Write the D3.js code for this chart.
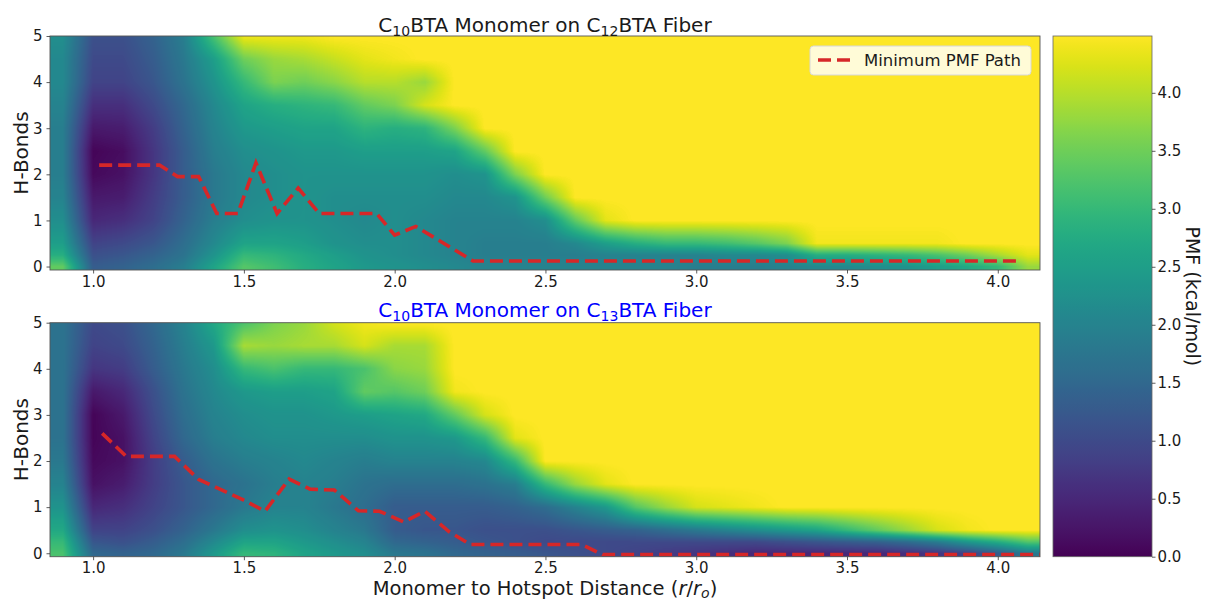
<!DOCTYPE html>
<html>
<head>
<meta charset="utf-8">
<script src="https://cdn.jsdelivr.net/npm/d3@7"></script>
<style>
  body { margin: 0; background: #fff; }
  text { font-family: "DejaVu Sans", sans-serif; fill: #1a1a1a; }
</style>
</head>
<body>
<svg id="chart" width="1205" height="601"></svg>
<script>
// Monomer-to-hotspot distance (r/r_o) at the centre of each PMF column
const distance = [0.9, 1.0, 1.1, 1.2, 1.3, 1.4, 1.5, 1.6, 1.7, 1.8, 1.9, 2.0, 2.1, 2.2, 2.3, 2.4, 2.5,
                  2.6, 2.7, 2.8, 2.9, 3.0, 3.1, 3.2, 3.3, 3.4, 3.5, 3.6, 3.7, 3.8, 3.9, 4.0, 4.1];
// H-bond count at the centre of each PMF row
const hbonds = [0, 0.25, 0.5, 1, 1.5, 2, 2.5, 3, 3.5, 4, 4.5, 5];

// PMF (kcal/mol), one array per distance column, values listed from 0 to 5 H-bonds
const pmfC12 = [
  [3.4, 2.8, 2.5, 2.2, 2.0, 1.9, 1.9, 1.9, 2.0, 2.1, 2.1, 2.2],
  [1.3, 1.1, 0.9, 0.5, 0.3, 0.1, 0.05, 0.3, 0.6, 0.9, 1.0, 1.1],
  [1.4, 1.2, 1.0, 0.6, 0.35, 0.2, 0.15, 0.35, 0.6, 0.9, 1.0, 1.1],
  [1.6, 1.4, 1.2, 0.9, 0.8, 0.7, 0.7, 0.8, 1.0, 1.2, 1.3, 1.4],
  [1.9, 1.7, 1.6, 1.4, 1.3, 1.3, 1.3, 1.4, 1.5, 1.7, 1.8, 1.9],
  [2.6, 2.3, 2.1, 1.9, 1.8, 1.8, 1.9, 2.0, 2.1, 2.3, 2.5, 3.2],
  [3.3, 3.0, 2.6, 2.2, 2.1, 2.1, 2.2, 2.4, 2.6, 3.0, 3.5, 4.4],
  [3.1, 2.9, 2.6, 2.3, 2.2, 2.2, 2.3, 2.5, 2.8, 3.6, 3.8, 4.4],
  [2.8, 2.7, 2.5, 2.3, 2.3, 2.3, 2.4, 2.6, 2.9, 3.5, 3.9, 4.4],
  [2.6, 2.5, 2.3, 2.2, 2.2, 2.3, 2.4, 2.6, 3.0, 3.7, 4.1, 4.5],
  [2.4, 2.3, 2.2, 2.1, 2.2, 2.3, 2.5, 2.9, 3.4, 4.0, 4.3, 4.5],
  [2.3, 2.2, 2.2, 2.2, 2.2, 2.3, 2.5, 2.8, 3.6, 4.0, 4.4, 4.5],
  [2.2, 2.1, 2.1, 2.1, 2.2, 2.3, 2.5, 2.9, 4.2, 3.8, 4.5, 4.5],
  [2.1, 2.0, 2.0, 2.0, 2.1, 2.2, 2.6, 3.6, 4.5, 4.5, 4.5, 4.5],
  [2.0, 1.9, 1.9, 2.0, 2.1, 2.3, 3.4, 4.5, 4.5, 4.5, 4.5, 4.5],
  [2.0, 1.9, 1.9, 2.0, 2.3, 3.6, 4.5, 4.5, 4.5, 4.5, 4.5, 4.5],
  [2.0, 1.9, 1.9, 2.2, 3.5, 4.5, 4.5, 4.5, 4.5, 4.5, 4.5, 4.5],
  [2.0, 1.9, 2.1, 3.4, 4.5, 4.5, 4.5, 4.5, 4.5, 4.5, 4.5, 4.5],
  [2.0, 2.0, 2.5, 4.3, 4.5, 4.5, 4.5, 4.5, 4.5, 4.5, 4.5, 4.5],
  [2.0, 2.0, 2.8, 4.5, 4.5, 4.5, 4.5, 4.5, 4.5, 4.5, 4.5, 4.5],
  [2.0, 2.0, 3.0, 4.5, 4.5, 4.5, 4.5, 4.5, 4.5, 4.5, 4.5, 4.5],
  [1.9, 2.0, 3.0, 4.5, 4.5, 4.5, 4.5, 4.5, 4.5, 4.5, 4.5, 4.5],
  [1.9, 2.1, 3.1, 4.5, 4.5, 4.5, 4.5, 4.5, 4.5, 4.5, 4.5, 4.5],
  [1.9, 2.1, 3.3, 4.5, 4.5, 4.5, 4.5, 4.5, 4.5, 4.5, 4.5, 4.5],
  [2.0, 2.2, 3.6, 4.5, 4.5, 4.5, 4.5, 4.5, 4.5, 4.5, 4.5, 4.5],
  [2.1, 2.8, 4.4, 4.5, 4.5, 4.5, 4.5, 4.5, 4.5, 4.5, 4.5, 4.5],
  [2.1, 2.8, 4.4, 4.5, 4.5, 4.5, 4.5, 4.5, 4.5, 4.5, 4.5, 4.5],
  [2.2, 2.9, 4.4, 4.5, 4.5, 4.5, 4.5, 4.5, 4.5, 4.5, 4.5, 4.5],
  [2.3, 3.0, 4.4, 4.5, 4.5, 4.5, 4.5, 4.5, 4.5, 4.5, 4.5, 4.5],
  [2.5, 3.2, 4.4, 4.5, 4.5, 4.5, 4.5, 4.5, 4.5, 4.5, 4.5, 4.5],
  [2.7, 3.5, 4.5, 4.5, 4.5, 4.5, 4.5, 4.5, 4.5, 4.5, 4.5, 4.5],
  [3.0, 3.9, 4.5, 4.5, 4.5, 4.5, 4.5, 4.5, 4.5, 4.5, 4.5, 4.5],
  [3.8, 4.3, 4.5, 4.5, 4.5, 4.5, 4.5, 4.5, 4.5, 4.5, 4.5, 4.5]
];

const pmfC13 = [
  [3.2, 3.0, 2.7, 2.3, 2.0, 1.8, 1.7, 1.7, 1.7, 1.7, 1.7, 1.7],
  [1.5, 1.2, 0.9, 0.5, 0.2, 0.1, 0.05, 0.05, 0.3, 0.7, 0.9, 1.0],
  [1.4, 1.1, 0.9, 0.6, 0.35, 0.2, 0.2, 0.3, 0.5, 0.8, 1.0, 1.1],
  [1.5, 1.3, 1.1, 0.9, 0.8, 0.8, 0.9, 1.0, 1.1, 1.3, 1.4, 1.5],
  [1.8, 1.6, 1.4, 1.2, 1.2, 1.3, 1.5, 1.6, 1.7, 1.8, 1.9, 2.0],
  [2.4, 2.1, 1.8, 1.5, 1.5, 1.7, 1.9, 2.0, 2.1, 2.2, 2.4, 2.7],
  [3.0, 2.6, 2.2, 1.8, 1.7, 1.9, 2.1, 2.2, 2.4, 3.0, 3.9, 3.2],
  [2.9, 2.6, 2.3, 2.0, 1.9, 2.0, 2.2, 2.3, 2.5, 3.2, 3.8, 3.6],
  [2.6, 2.4, 2.2, 2.0, 2.0, 2.1, 2.2, 2.3, 2.5, 3.0, 3.9, 3.8],
  [2.4, 2.2, 2.0, 1.8, 1.9, 2.0, 2.2, 2.4, 2.6, 3.0, 3.9, 4.2],
  [2.2, 2.0, 1.8, 1.6, 1.7, 1.9, 2.2, 2.5, 3.4, 3.2, 4.2, 4.4],
  [1.8, 1.5, 1.3, 1.3, 1.6, 2.0, 2.3, 2.6, 3.3, 3.7, 3.9, 4.5],
  [1.7, 1.4, 1.2, 1.3, 1.6, 2.0, 2.3, 2.7, 3.5, 3.8, 3.9, 4.5],
  [1.5, 1.3, 1.2, 1.3, 1.6, 2.0, 2.4, 3.4, 4.4, 4.5, 4.5, 4.5],
  [1.4, 1.2, 1.1, 1.3, 1.7, 2.1, 3.0, 4.2, 4.5, 4.5, 4.5, 4.5],
  [1.3, 1.1, 1.1, 1.4, 1.9, 3.0, 4.3, 4.5, 4.5, 4.5, 4.5, 4.5],
  [1.2, 1.0, 1.1, 1.6, 3.0, 4.5, 4.5, 4.5, 4.5, 4.5, 4.5, 4.5],
  [1.1, 1.0, 1.2, 2.0, 3.8, 4.5, 4.5, 4.5, 4.5, 4.5, 4.5, 4.5],
  [1.0, 1.0, 1.3, 2.4, 4.3, 4.5, 4.5, 4.5, 4.5, 4.5, 4.5, 4.5],
  [0.9, 1.0, 1.4, 3.3, 4.5, 4.5, 4.5, 4.5, 4.5, 4.5, 4.5, 4.5],
  [0.8, 1.0, 1.6, 3.8, 4.5, 4.5, 4.5, 4.5, 4.5, 4.5, 4.5, 4.5],
  [0.7, 1.0, 1.8, 4.2, 4.5, 4.5, 4.5, 4.5, 4.5, 4.5, 4.5, 4.5],
  [0.6, 1.0, 2.0, 4.3, 4.5, 4.5, 4.5, 4.5, 4.5, 4.5, 4.5, 4.5],
  [0.5, 1.0, 2.2, 4.4, 4.5, 4.5, 4.5, 4.5, 4.5, 4.5, 4.5, 4.5],
  [0.5, 1.1, 2.4, 4.5, 4.5, 4.5, 4.5, 4.5, 4.5, 4.5, 4.5, 4.5],
  [0.5, 1.2, 2.6, 4.5, 4.5, 4.5, 4.5, 4.5, 4.5, 4.5, 4.5, 4.5],
  [0.5, 1.3, 3.0, 4.5, 4.5, 4.5, 4.5, 4.5, 4.5, 4.5, 4.5, 4.5],
  [0.5, 1.4, 3.4, 4.5, 4.5, 4.5, 4.5, 4.5, 4.5, 4.5, 4.5, 4.5],
  [0.6, 1.6, 3.8, 4.5, 4.5, 4.5, 4.5, 4.5, 4.5, 4.5, 4.5, 4.5],
  [0.7, 1.9, 4.2, 4.5, 4.5, 4.5, 4.5, 4.5, 4.5, 4.5, 4.5, 4.5],
  [0.9, 2.4, 4.4, 4.5, 4.5, 4.5, 4.5, 4.5, 4.5, 4.5, 4.5, 4.5],
  [1.3, 2.8, 4.5, 4.5, 4.5, 4.5, 4.5, 4.5, 4.5, 4.5, 4.5, 4.5],
  [1.8, 3.3, 4.5, 4.5, 4.5, 4.5, 4.5, 4.5, 4.5, 4.5, 4.5, 4.5]
];

// Minimum PMF paths
const pathC12Dist   = [1.02, 1.22, 1.28, 1.35, 1.41, 1.48, 1.54, 1.61, 1.68, 1.75, 1.94, 2.00, 2.07, 2.26, 4.08];
const pathC12Hbonds = [2.20, 2.20, 1.95, 1.95, 1.15, 1.15, 2.25, 1.15, 1.70, 1.15, 1.15, 0.68, 0.87, 0.12, 0.12];
const pathC13Dist   = [1.03, 1.11, 1.27, 1.35, 1.44, 1.50, 1.57, 1.65, 1.72, 1.80, 1.88, 1.95, 2.03, 2.10, 2.18, 2.25, 2.62, 2.69, 4.14];
const pathC13Hbonds = [2.60, 2.10, 2.10, 1.60, 1.33, 1.15, 0.91, 1.61, 1.39, 1.37, 0.92, 0.91, 0.68, 0.91, 0.47, 0.19, 0.19, -0.03, -0.03];

const xTickValues = [1.0, 1.5, 2.0, 2.5, 3.0, 3.5, 4.0];
const yTickValues = [0, 1, 2, 3, 4, 5];
const cbarTickValues = [0.0, 0.5, 1.0, 1.5, 2.0, 2.5, 3.0, 3.5, 4.0];

const svg = d3.select("#chart");
const defs = svg.append("defs");

const plotLeft = 50, plotRight = 1040;
const x = d3.scaleLinear().domain([0.857, 4.14]).range([plotLeft, plotRight]);
const color = d3.scaleSequential(d3.interpolateViridis).domain([0, 4.49]).clamp(true);

// bilinear lookup in the PMF grid (like imshow's bilinear interpolation)
function locate(centres, v) {
  const hi = Math.min(Math.max(d3.bisectRight(centres, v), 1), centres.length - 1);
  const lo = hi - 1;
  const t = Math.max(0, Math.min(1, (v - centres[lo]) / (centres[hi] - centres[lo])));
  return [lo, hi, t];
}
function pmfAt(pmf, d, h) {
  const [i0, i1, tx] = locate(distance, d);
  const [j0, j1, ty] = locate(hbonds, h);
  const a = pmf[i0][j0] * (1 - tx) + pmf[i1][j0] * tx;
  const b = pmf[i0][j1] * (1 - tx) + pmf[i1][j1] * tx;
  return a * (1 - ty) + b * ty;
}

// raster of the PMF surface for one panel, one canvas pixel per screen pixel
function pmfImage(pmf, y, top, bottom) {
  const w = plotRight - plotLeft, h = Math.round(bottom - top);
  const canvas = document.createElement("canvas");
  canvas.width = w; canvas.height = h;
  const ctx = canvas.getContext("2d");
  const img = ctx.createImageData(w, h);
  for (let py = 0; py < h; py++) {
    const hb = y.invert(top + (py + 0.5) * (bottom - top) / h);
    for (let px = 0; px < w; px++) {
      const d = x.invert(plotLeft + px + 0.5);
      const c = d3.rgb(color(pmfAt(pmf, d, hb)));
      const k = (py * w + px) * 4;
      img.data[k] = c.r; img.data[k + 1] = c.g; img.data[k + 2] = c.b; img.data[k + 3] = 255;
    }
  }
  ctx.putImageData(img, 0, 0);
  return canvas.toDataURL();
}

function drawPanel(cfg) {
  const y = d3.scaleLinear().domain([-0.075, 5]).range([cfg.bottom, cfg.top]);
  const g = svg.append("g");

  defs.append("clipPath").attr("id", cfg.id + "-clip")
    .append("rect")
    .attr("x", plotLeft).attr("y", cfg.top)
    .attr("width", plotRight - plotLeft).attr("height", cfg.bottom - cfg.top);

  g.append("image")
    .attr("x", plotLeft).attr("y", cfg.top)
    .attr("width", plotRight - plotLeft).attr("height", cfg.bottom - cfg.top)
    .attr("preserveAspectRatio", "none")
    .attr("href", pmfImage(cfg.pmf, y, cfg.top, cfg.bottom));

  // minimum PMF path
  const line = d3.line().x(d => x(d[0])).y(d => y(d[1]));
  g.append("g").attr("clip-path", `url(#${cfg.id}-clip)`)
    .append("path")
    .datum(cfg.pathX.map((d, k) => [d, cfg.pathY[k]]))
    .attr("d", line)
    .attr("fill", "none")
    .attr("stroke", "#d62728")
    .attr("stroke-width", 3.6)
    .attr("stroke-dasharray", "13,6");

  // frame
  g.append("rect")
    .attr("x", plotLeft).attr("y", cfg.top)
    .attr("width", plotRight - plotLeft).attr("height", cfg.bottom - cfg.top)
    .attr("fill", "none").attr("stroke", "#555").attr("stroke-width", 0.9);

  // axes
  const xAxis = g.append("g").attr("transform", `translate(0,${cfg.bottom})`)
    .call(d3.axisBottom(x).tickValues(xTickValues).tickFormat(d3.format(".1f"))
      .tickSize(3.5).tickPadding(2.5).tickSizeOuter(0));
  const yAxis = g.append("g").attr("transform", `translate(${plotLeft},0)`)
    .call(d3.axisLeft(y).tickValues(yTickValues).tickFormat(d3.format("d"))
      .tickSize(3.5).tickPadding(4).tickSizeOuter(0));
  [xAxis, yAxis].forEach(a => {
    a.select(".domain").remove();
    a.selectAll(".tick line").attr("stroke", "#333").attr("stroke-width", 0.8);
    a.selectAll(".tick text").attr("font-family", "DejaVu Sans").attr("font-size", 15).attr("fill", "#1a1a1a");
  });

  g.append("text")
    .attr("transform", `translate(28,${(cfg.top + cfg.bottom) / 2}) rotate(-90)`)
    .attr("text-anchor", "middle")
    .attr("font-size", 20)
    .text("H-Bonds");

  // title with subscripts
  const t = g.append("text")
    .attr("x", (plotLeft + plotRight) / 2).attr("y", cfg.titleY)
    .attr("text-anchor", "middle").attr("font-size", 20)
    .style("fill", cfg.titleColor);
  t.append("tspan").text("C");
  t.append("tspan").attr("dy", 4).attr("font-size", 14).text("10");
  t.append("tspan").attr("dy", -4).text("BTA Monomer on C");
  t.append("tspan").attr("dy", 4).attr("font-size", 14).text(cfg.fiberSub);
  t.append("tspan").attr("dy", -4).text("BTA Fiber");

  return g;
}

const upperPanel = drawPanel({ id: "c12", top: 36, bottom: 270, pmf: pmfC12,
  pathX: pathC12Dist, pathY: pathC12Hbonds, titleY: 31.5, titleColor: "#1a1a1a", fiberSub: "12" });
drawPanel({ id: "c13", top: 322.7, bottom: 556.7, pmf: pmfC13,
  pathX: pathC13Dist, pathY: pathC13Hbonds, titleY: 317, titleColor: "#0000ff", fiberSub: "13" });

// legend in the upper panel
const legend = upperPanel.append("g").attr("transform", "translate(810,46)");
legend.append("rect").attr("width", 221).attr("height", 29).attr("rx", 3.5)
  .attr("fill", "#ffffff").attr("fill-opacity", 0.82)
  .attr("stroke", "#d8d8d8").attr("stroke-width", 1);
legend.append("line").attr("x1", 8).attr("x2", 42).attr("y1", 14).attr("y2", 14)
  .attr("stroke", "#d62728").attr("stroke-width", 3.6).attr("stroke-dasharray", "13,6");
legend.append("text").attr("x", 54).attr("y", 20).attr("font-size", 16.5).text("Minimum PMF Path");

// x label
const xl = svg.append("text")
  .attr("x", (plotLeft + plotRight) / 2).attr("y", 595)
  .attr("text-anchor", "middle").attr("font-size", 19.5);
xl.append("tspan").text("Monomer to Hotspot Distance (");
xl.append("tspan").attr("font-style", "italic").text("r");
xl.append("tspan").text("/");
xl.append("tspan").attr("font-style", "italic").text("r");
xl.append("tspan").attr("font-style", "italic").attr("font-size", 14).attr("dy", 2.5).text("o");
xl.append("tspan").attr("dy", -2.5).text(")");

// colour bar
const cbX = 1053, cbW = 99, cbTop = 36, cbBottom = 556.7;
const cy = d3.scaleLinear().domain([0, 4.49]).range([cbBottom, cbTop]);
const grad = defs.append("linearGradient").attr("id", "viridis-bar")
  .attr("x1", 0).attr("x2", 0).attr("y1", 1).attr("y2", 0);
d3.range(0, 1.0001, 0.02).forEach(f => {
  grad.append("stop").attr("offset", f).attr("stop-color", color(f * 4.49));
});
svg.append("rect").attr("x", cbX).attr("y", cbTop).attr("width", cbW).attr("height", cbBottom - cbTop)
  .attr("fill", "url(#viridis-bar)").attr("stroke", "#666").attr("stroke-width", 0.8);
const cAxis = svg.append("g").attr("transform", `translate(${cbX + cbW},0)`)
  .call(d3.axisRight(cy).tickValues(cbarTickValues).tickFormat(d3.format(".1f"))
    .tickSize(3.5).tickPadding(2).tickSizeOuter(0));
cAxis.select(".domain").remove();
cAxis.selectAll(".tick line").attr("stroke", "#333").attr("stroke-width", 0.8);
cAxis.selectAll(".tick text").attr("font-family", "DejaVu Sans").attr("font-size", 15).attr("fill", "#1a1a1a");

svg.append("text")
  .attr("transform", `translate(1186,${(cbTop + cbBottom) / 2}) rotate(90)`)
  .attr("text-anchor", "middle").attr("font-size", 19)
  .text("PMF (kcal/mol)");
</script>
</body>
</html>
